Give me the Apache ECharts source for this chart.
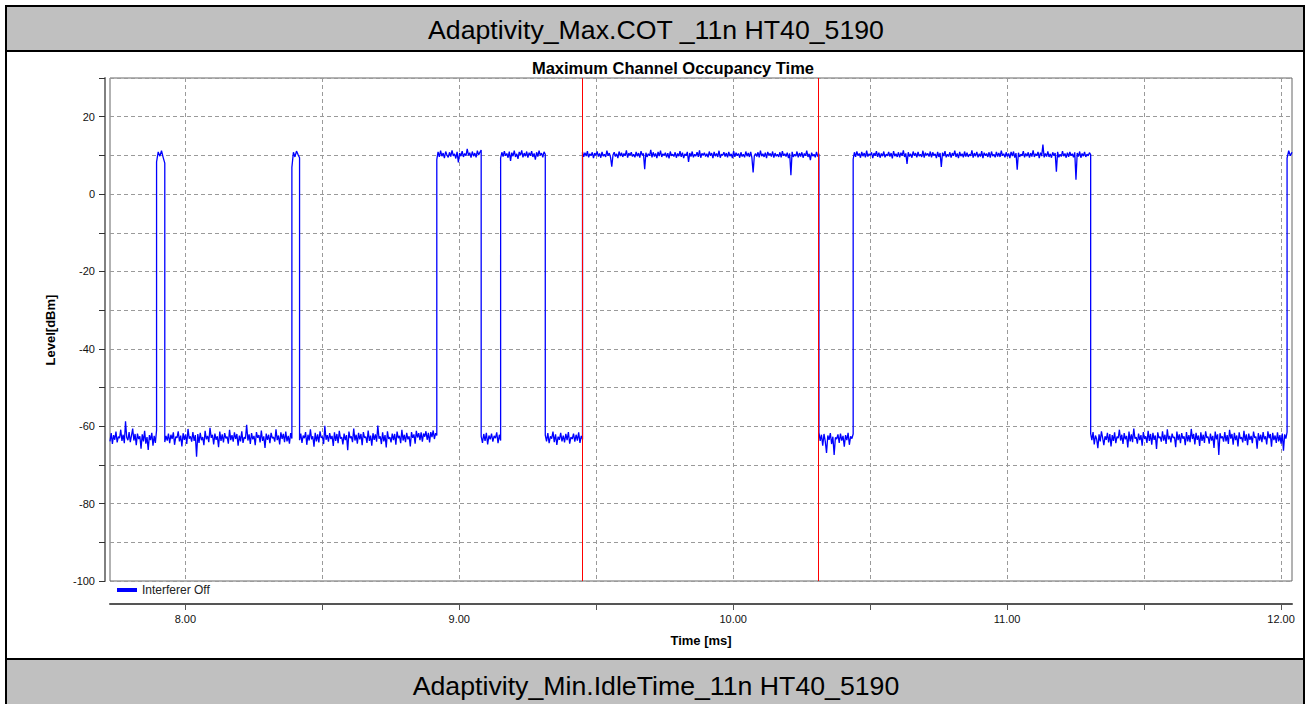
<!DOCTYPE html>
<html>
<head>
<meta charset="utf-8">
<script src="https://cdn.jsdelivr.net/npm/echarts@6/dist/echarts.min.js"></script>
<style>
html,body{margin:0;padding:0;background:#fff;}
#chart{width:1307px;height:704px;}
</style>
</head>
<body>
<div id="chart"></div>
<script>
// ---------- texts ----------
const headerText = 'Adaptivity_Max.COT _11n HT40_5190';
const footerText = 'Adaptivity_Min.IdleTime_11n HT40_5190';
const chartTitle = 'Maximum Channel Occupancy Time';
const seriesName = 'Interferer Off';
const xAxisTitle = 'Time [ms]';
const yAxisTitle = 'Level[dBm]';

// ---------- axes ----------
const xRange = [7.725, 12.04];
const yRange = [-100, 30];
const xTickValues = [8, 8.5, 9, 9.5, 10, 10.5, 11, 11.5, 12];
const xLabelValues = [8, 9, 10, 11, 12];
const yLabelValues = [-100, -80, -60, -40, -20, 0, 20];

// ---------- red marker lines (ms) ----------
const markerTimes = [9.45, 10.313];

// ---------- trace: segment edges (ms) and levels (dBm) ----------
const segmentEdges = [7.725, 7.895, 7.925, 8.389, 8.417, 8.918, 9.080, 9.151, 9.314, 9.450, 10.313, 10.438, 11.305, 12.022, 12.040];

const noise0 = [-63.9,-61.8,-64.6,-62.3,-63.5,-61.4,-64.2,-62.7,-63.1,-60.9,
  -63.8,-62.2,-64.4,-58.7,-62.9,-63.6,-61.5,-64.1,-62.4,-60.6,
  -63.7,-62.0,-64.9,-61.9,-63.3,-62.6,-65.8,-62.1,-63.9,-61.2,
  -64.5,-62.8,-66.1,-62.3,-63.6,-61.7,-65.0,-62.5,-64.3,-61.0];
const burst1 = [8.3, 10.9, 9.8, 11.2, 9.5, 8.0];
const noise1 = [-64.1,-62.5,-63.7,-61.9,-64.4,-62.2,-63.3,-61.6,-64.8,-62.7,
  -63.0,-61.3,-63.9,-62.4,-65.2,-61.8,-63.5,-62.1,-64.6,-60.7,
  -63.2,-62.6,-64.0,-61.5,-63.8,-62.3,-67.9,-62.0,-64.3,-61.7,
  -63.6,-62.8,-64.9,-61.2,-63.4,-62.5,-64.1,-60.4,-63.0,-62.2,
  -64.7,-61.9,-63.5,-62.6,-65.4,-61.4,-63.8,-62.1,-64.2,-61.8,
  -63.1,-62.7,-64.5,-60.9,-63.6,-62.3,-64.0,-61.6,-63.3,-62.0,
  -65.0,-62.4,-63.9,-61.3,-64.3,-62.8,-63.2,-59.6,-63.7,-62.1,
  -64.6,-61.8,-63.4,-62.5,-64.9,-61.5,-63.0,-62.3,-64.2,-61.1,
  -63.8,-62.6,-65.6,-61.9,-63.5,-62.2,-64.4,-61.7,-63.1,-62.8,
  -64.0,-60.8,-63.6,-62.4,-64.7,-61.6,-63.3,-62.0,-64.1,-61.4,
  -63.9,-62.5,-64.5,-61.8,-63.2];
const burst2 = [6.9, 10.8, 9.6, 11.1, 10.2, 9.4];
const noise2 = [-63.6,-61.9,-64.3,-62.4,-63.1,-61.5,-64.8,-62.2,-63.7,-60.8,
  -63.4,-62.6,-65.3,-61.7,-63.9,-62.1,-64.2,-61.3,-63.0,-62.7,
  -64.6,-59.9,-63.5,-62.3,-64.0,-61.8,-63.3,-62.5,-65.1,-61.6,
  -63.8,-62.0,-64.4,-61.2,-63.2,-62.8,-64.7,-61.9,-63.6,-62.3,
  -66.2,-61.4,-63.1,-62.6,-64.1,-60.6,-63.7,-62.2,-64.5,-61.7,
  -63.4,-62.0,-64.9,-61.5,-63.0,-62.7,-64.3,-61.1,-63.8,-62.4,
  -65.0,-61.8,-63.5,-62.1,-64.0,-59.8,-63.2,-62.6,-64.6,-61.6,
  -63.9,-62.3,-65.5,-61.3,-63.3,-62.8,-64.2,-61.9,-63.6,-62.0,
  -64.8,-61.4,-63.1,-62.5,-64.4,-60.9,-63.7,-62.2,-64.1,-61.7,
  -63.4,-62.6,-65.2,-61.5,-63.0,-62.1,-64.5,-61.2,-62.9,-61.8,
  -63.6,-61.6,-64.0,-61.9,-62.7,-61.3,-63.5,-61.7,-64.2,-61.5,
  -62.8,-61.1,-63.3,-61.8,-62.4];
const burst3 = [8.9,10.9,9.6,11.2,9.8,10.6,9.3,11.0,10.1,9.5,
  10.8,9.7,11.3,9.9,10.4,9.2,10.9,8.2,10.6,9.8,
  11.1,9.6,10.5,9.9,11.7,10.0,10.7,9.4,11.0,9.8,
  10.6,9.5,11.2,10.1,10.8,11.4];
const noise3 = [-62.6,-64.3,-62.0,-63.8,-61.7,-64.7,-62.4,-63.4,-61.9,-64.0,-62.5,-63.1,-61.6,-64.4,-62.2,-63.7];
const burst4 = [9.3,10.8,9.7,11.1,9.9,10.5,9.4,11.0,8.6,10.7,
  9.8,11.2,9.6,10.4,9.1,10.9,10.0,11.3,9.5,10.6,
  9.8,11.0,9.4,10.7,9.9,11.1,9.6,10.5,8.9,10.8,
  9.7,11.2,10.0,10.6,9.5,10.9,10.3];
const noise4 = [-62.3,-63.9,-61.8,-64.4,-62.6,-63.2,-61.4,-64.1,-62.1,-64.8,
  -62.7,-63.5,-61.7,-63.9,-62.4,-64.2,-62.0,-63.6,-61.5,-64.5,
  -62.8,-63.3,-61.9,-64.0,-62.2,-63.7,-61.6,-64.3,-62.5,-63.4];
const burst5 = [10.9,9.6,10.7,9.8,11.1,9.5,10.4,9.9,10.8,9.3,10.6,10.0,11.0,9.7,10.5,9.4,10.9,9.8,10.3,9.6,
  11.2,9.9,10.6,9.5,7.1,10.1,10.8,9.7,10.4,9.3,11.0,9.8,10.7,9.6,10.5,9.9,11.3,9.4,10.6,10.0,
  10.8,9.7,10.3,9.5,10.9,9.8,10.6,9.4,11.1,10.0,10.5,6.4,10.7,9.6,10.4,9.9,11.4,9.5,10.8,9.7,
  10.5,9.3,10.9,9.8,11.2,9.6,10.4,10.0,10.7,9.5,10.6,9.2,11.0,9.9,10.3,9.7,10.8,9.4,10.5,9.8,
  11.1,9.6,10.7,9.3,10.4,9.9,10.9,8.3,10.6,9.7,11.0,9.5,10.3,9.8,10.8,9.6,11.3,9.4,10.5,10.0,
  10.7,9.7,10.4,9.5,11.0,9.9,10.6,9.3,10.9,9.8,10.5,9.6,11.2,9.4,10.3,10.0,10.8,9.7,10.6,9.5,
  10.9,9.8,10.4,9.3,11.1,9.6,10.7,9.9,10.5,9.4,10.8,9.7,10.3,9.5,11.0,9.8,10.6,9.6,10.9,9.4,
  5.6,9.9,10.5,9.7,10.8,9.5,11.2,9.8,10.4,9.6,10.7,9.3,10.9,10.0,10.5,9.7,11.0,9.4,10.6,9.8,
  10.3,9.6,10.8,9.5,11.1,9.9,10.4,9.7,10.7,9.3,10.5,4.9,10.9,9.6,10.3,9.8,11.0,9.5,10.6,9.7,
  10.8,9.4,10.5,9.9,11.2,9.6,10.4,8.8,10.7,9.8,10.3,9.5,10.9,9.7,10.4];
const noise5 = [-61.6,-63.8,-62.2,-65.0,-62.0,-63.9,-66.9,-62.4,-63.5,-61.8,
  -64.6,-62.7,-67.4,-62.9,-63.3,-62.1,-64.3,-61.9,-63.7,-62.5,
  -65.3,-62.3,-63.6,-61.7,-64.8,-62.6,-63.2,-62.0];
const burst6 = [9.0,10.8,9.6,11.0,9.9,10.5,9.4,10.9,9.8,10.6,9.5,11.2,9.7,10.4,10.0,10.8,9.3,10.6,9.9,11.1,
  9.6,10.7,9.4,10.5,9.8,11.0,9.5,10.3,9.9,10.9,9.7,10.6,9.2,11.1,9.8,10.4,9.6,10.8,9.5,10.7,
  9.9,11.3,9.6,10.5,7.8,10.8,9.7,10.4,9.4,11.0,9.9,10.6,9.5,10.9,9.8,10.3,9.6,11.2,9.4,10.7,
  10.0,10.5,9.7,11.0,9.5,10.8,9.9,10.4,9.3,10.9,9.6,10.6,7.0,10.7,9.8,11.1,9.5,10.3,9.7,10.8,
  9.4,10.6,9.9,11.2,9.6,10.5,9.3,10.9,9.8,10.4,9.5,11.0,9.7,10.7,9.6,10.3,9.9,11.3,9.4,10.6,
  9.8,10.9,9.5,10.4,9.7,11.1,9.3,10.7,9.9,10.5,9.6,10.8,9.4,11.0,9.8,10.3,9.5,10.9,9.7,10.6,
  9.6,11.2,9.9,10.4,9.5,10.8,9.7,10.5,9.3,10.9,9.8,11.0,9.4,10.6,6.3,10.7,9.6,10.3,9.9,11.1,
  9.5,10.5,9.8,10.8,9.4,10.6,9.7,11.3,9.6,10.4,9.9,10.9,9.3,10.7,9.8,12.8,9.5,10.5,9.7,11.0,
  9.6,10.4,9.4,10.8,9.9,10.6,5.8,10.9,9.5,10.3,9.7,11.1,9.8,10.5,9.4,10.7,9.6,10.9,9.9,10.4,
  9.5,10.8,3.7,10.6,9.7,11.0,9.4,10.5,9.8,10.9,9.6,10.3,9.9,10.7,10.2];
const noise6 = [-61.9,-63.6,-61.5,-64.7,-62.4,-63.3,-65.7,-62.1,-63.9,-61.3,
  -63.0,-64.9,-62.6,-63.5,-61.7,-64.2,-62.0,-65.2,-62.3,-63.8,
  -61.6,-64.4,-62.7,-63.1,-60.9,-63.7,-62.2,-64.6,-61.8,-63.4,
  -62.5,-65.5,-61.4,-63.9,-62.1,-64.1,-60.6,-63.2,-62.8,-64.5,
  -61.9,-63.6,-62.3,-65.0,-61.5,-63.3,-62.6,-64.3,-61.2,-63.8,
  -62.0,-64.8,-61.7,-63.5,-62.4,-65.9,-61.6,-63.1,-62.7,-64.0,
  -61.3,-63.7,-62.2,-64.6,-60.8,-63.4,-62.5,-64.2,-61.9,-63.0,
  -62.8,-65.4,-61.4,-63.6,-62.1,-64.4,-61.8,-63.2,-62.6,-64.9,
  -61.5,-63.9,-62.3,-64.1,-60.7,-63.3,-62.0,-64.7,-61.7,-63.5,
  -62.4,-65.1,-61.6,-63.8,-62.2,-64.3,-61.3,-63.0,-62.7,-64.5,
  -61.9,-63.7,-62.5,-65.6,-61.4,-63.4,-62.1,-67.4,-61.8,-63.1,
  -62.6,-64.0,-61.5,-63.9,-62.3,-64.6,-60.9,-63.2,-62.0,-64.8,
  -61.7,-63.6,-62.4,-65.2,-61.6,-63.3,-62.8,-64.2,-61.2,-63.8,
  -62.1,-64.9,-61.9,-63.5,-62.5,-64.4,-61.4,-63.0,-62.7,-65.8,
  -61.8,-63.7,-62.2,-64.1,-61.5,-63.4,-62.6,-64.7,-61.3,-63.1,
  -62.0,-65.3,-61.7,-63.6,-62.4,-64.3,-61.6,-63.9,-62.3,-64.5,
  -61.9,-66.3,-62.1,-63.2,-61.5];
const burst7 = [9.3, 11.2, 9.9, 10.8];

const segmentLevels = [noise0, burst1, noise1, burst2, noise2, burst3, noise3, burst4, noise4, burst5, noise5, burst6, noise6, burst7];

// ---------- build series data from segments ----------
const traceData = [];
segmentLevels.forEach((vals, i) => {
  const t0 = segmentEdges[i], t1 = segmentEdges[i + 1];
  const n = vals.length;
  vals.forEach((v, j) => {
    traceData.push([t0 + (t1 - t0) * (n > 1 ? j / (n - 1) : 0), v]);
  });
});

const FONT = "'Liberation Sans', Arial, sans-serif";
const near = (v, arr) => arr.some(a => Math.abs(a - v) < 1e-6);

const chart = echarts.init(document.getElementById('chart'), null, { renderer: 'svg' });
chart.setOption({
  animation: false,
  backgroundColor: '#ffffff',
  textStyle: { fontFamily: FONT },
  graphic: [
    { type: 'rect', z: -10, shape: { x: 6, y: 51, width: 1298, height: 608 }, style: { fill: '#ffffff', stroke: '#000', lineWidth: 2 } },
    { type: 'rect', z: -5, shape: { x: 6, y: 6, width: 1298, height: 45 }, style: { fill: '#c0c0c0', stroke: '#000', lineWidth: 2 } },
    { type: 'rect', z: -5, shape: { x: 6, y: 659, width: 1298, height: 60 }, style: { fill: '#c0c0c0', stroke: '#000', lineWidth: 2 } },
    { type: 'text', z: 10, x: 656, y: 30, style: { text: headerText, font: '26.7px ' + FONT, fill: '#000', align: 'center', verticalAlign: 'middle' } },
    { type: 'text', z: 10, x: 656, y: 686, style: { text: footerText, font: '26.7px ' + FONT, fill: '#000', align: 'center', verticalAlign: 'middle' } },
    { type: 'text', z: 10, x: 673, y: 68, style: { text: chartTitle, font: 'bold 16.5px ' + FONT, fill: '#000', align: 'center', verticalAlign: 'middle' } },
    { type: 'text', z: 10, x: 701, y: 640, style: { text: xAxisTitle, font: 'bold 13px ' + FONT, fill: '#000', align: 'center', verticalAlign: 'middle' } },
    { type: 'text', z: 10, x: 50, y: 330, rotation: Math.PI / 2, style: { text: yAxisTitle, font: 'bold 13px ' + FONT, fill: '#000', align: 'center', verticalAlign: 'middle' } }
  ],
  legend: {
    data: [seriesName],
    left: 117, top: 584, padding: 0,
    icon: 'rect', itemWidth: 20, itemHeight: 4,
    selectedMode: false,
    textStyle: { fontSize: 12, color: '#222', fontFamily: FONT }
  },
  grid: {
    left: 110, right: 15, top: 78, bottom: 123,
    show: true, backgroundColor: '#fff', borderColor: '#666', borderWidth: 1
  },
  xAxis: {
    type: 'value', min: xRange[0], max: xRange[1], splitNumber: 9,
    offset: 23,
    axisLine: { show: true, onZero: false, lineStyle: { color: '#555', width: 2 } },
    axisTick: { show: true, length: 6, customValues: xTickValues, lineStyle: { color: '#555' } },
    axisLabel: {
      customValues: xLabelValues, margin: 9, fontSize: 11, color: '#111', fontFamily: FONT,
      formatter: v => near(v, xLabelValues) ? v.toFixed(2) : ''
    },
    splitLine: { show: true, lineStyle: { color: '#9a9a9a', type: [4, 3], width: 1 } }
  },
  yAxis: {
    type: 'value', min: yRange[0], max: yRange[1], interval: 10,
    offset: 5,
    axisLine: { show: true, onZero: false, lineStyle: { color: '#808080', width: 2 } },
    axisTick: { show: true, length: 6, lineStyle: { color: '#333' } },
    axisLabel: {
      margin: 10, fontSize: 11, color: '#111', fontFamily: FONT,
      formatter: v => near(v, yLabelValues) ? String(v) : ''
    },
    splitLine: { show: true, lineStyle: { color: '#9a9a9a', type: [4, 3], width: 1 } }
  },
  series: [{
    name: seriesName,
    type: 'line',
    data: traceData,
    showSymbol: false,
    symbol: 'none',
    sampling: false,
    color: '#0000ff',
    lineStyle: { color: '#0000ff', width: 1.3 },
    markLine: {
      silent: true,
      symbol: ['none', 'none'],
      label: { show: false },
      lineStyle: { color: '#ff0000', width: 1, type: 'solid' },
      data: markerTimes.map(t => ({ xAxis: t }))
    }
  }]
});
</script>
</body>
</html>
